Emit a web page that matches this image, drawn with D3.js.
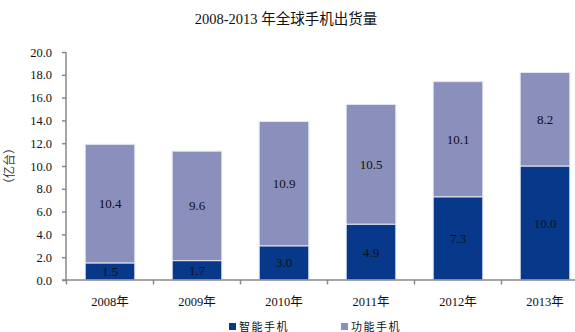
<!DOCTYPE html>
<html>
<head>
<meta charset="utf-8">
<script src="https://cdn.jsdelivr.net/npm/d3@7/dist/d3.min.js"></script>
<style>
  html, body { margin: 0; padding: 0; background: #fff; }
  svg { display: block; }
</style>
</head>
<body>
<svg id="chart" width="575" height="332"></svg>
<script>
// Global handset shipments, 2008–2013 (units: 100 million)
const years = ["2008年", "2009年", "2010年", "2011年", "2012年", "2013年"];
const smartphones = [1.5, 1.7, 3.0, 4.9, 7.3, 10.0];
const featurePhones = [10.4, 9.6, 10.9, 10.5, 10.1, 8.2];
const seriesNames = ["智能手机", "功能手机"];
const yTicks = [0, 2, 4, 6, 8, 10, 12, 14, 16, 18, 20];

const colors = ["#07388a", "#8a8fbb"];
const serif = "'Liberation Serif', 'Times New Roman', 'Noto Sans CJK SC', serif";

const svg = d3.select("#chart");

const rows = years.map((y, i) => ({ year: y, s0: smartphones[i], s1: featurePhones[i] }));
const stacked = d3.stack().keys(["s0", "s1"])(rows);

const x = d3.scaleBand().domain(years).range([66.5, 588.5]).paddingInner(0.43).paddingOuter(0.215);
const y = d3.scaleLinear().domain([0, 20]).range([280, 52]);

// Title
svg.append("text")
  .attr("x", 286).attr("y", 24)
  .attr("text-anchor", "middle")
  .attr("font-family", serif)
  .attr("font-size", 14.5)
  .attr("fill", "#111")
  .text("2008-2013 年全球手机出货量");

// Stacked bars
const layers = svg.append("g").selectAll("g")
  .data(stacked).join("g")
  .attr("fill", (d, i) => colors[i]);

layers.selectAll("rect")
  .data(d => d).join("rect")
  .attr("x", d => x(d.data.year))
  .attr("y", d => y(d[1]))
  .attr("width", x.bandwidth())
  .attr("height", d => y(d[0]) - y(d[1]))
  .attr("stroke", "#e4e6f2")
  .attr("stroke-width", 1);

// Value labels centred in each segment
stacked.forEach(layer => {
  svg.append("g").selectAll("text")
    .data(layer).join("text")
    .attr("x", d => x(d.data.year) + x.bandwidth() / 2)
    .attr("y", d => (y(d[0]) + y(d[1])) / 2 + 4.5)
    .attr("text-anchor", "middle")
    .attr("font-family", serif)
    .attr("font-size", 13)
    .attr("fill", "#111")
    .text(d => (d[1] - d[0]).toFixed(1));
});

// Y axis
const yAxis = svg.append("g")
  .attr("transform", "translate(66,0)")
  .call(d3.axisLeft(y).tickValues(yTicks).tickSize(4).tickPadding(10).tickFormat(d3.format(".1f")));
yAxis.select(".domain").attr("stroke", "#888").attr("stroke-width", 1.5).attr("d", "M0,52V280");
yAxis.selectAll(".tick line").attr("stroke", "#888").attr("stroke-width", 1.5);
yAxis.selectAll(".tick text")
  .attr("font-family", serif).attr("font-size", 12.5).attr("fill", "#111");

// X axis
const xAxis = svg.append("g")
  .attr("transform", "translate(0,280)")
  .call(d3.axisBottom(x).tickSize(0).tickPadding(17));
xAxis.select(".domain").attr("stroke", "#888").attr("stroke-width", 1.5).attr("d", "M62,0H575");
xAxis.selectAll(".tick text")
  .attr("font-family", serif).attr("font-size", 12.5).attr("fill", "#111");

// Category separators on the x axis
const step = x.step();
const sepX = d3.range(years.length + 1).map(i => 66.5 + i * step);
svg.append("g").selectAll("line")
  .data(sepX).join("line")
  .attr("x1", d => d).attr("x2", d => d)
  .attr("y1", 280).attr("y2", 284.5)
  .attr("stroke", "#888").attr("stroke-width", 1.5);

// Y axis title
svg.append("text")
  .attr("transform", "translate(14,166) rotate(-90)")
  .attr("text-anchor", "middle")
  .attr("font-family", serif)
  .attr("font-size", 12)
  .attr("fill", "#333")
  .text("（亿台）");

// Legend
const legendX = [229, 341];
const legend = svg.append("g").selectAll("g")
  .data(seriesNames).join("g")
  .attr("transform", (d, i) => `translate(${legendX[i]},323)`);
legend.append("rect")
  .attr("width", 7).attr("height", 7)
  .attr("fill", (d, i) => colors[i]);
legend.append("text")
  .attr("x", 10).attr("y", 8)
  .attr("font-family", serif)
  .attr("font-size", 11)
  .attr("letter-spacing", 1.5)
  .attr("fill", "#111")
  .text(d => d);
</script>
</body>
</html>
